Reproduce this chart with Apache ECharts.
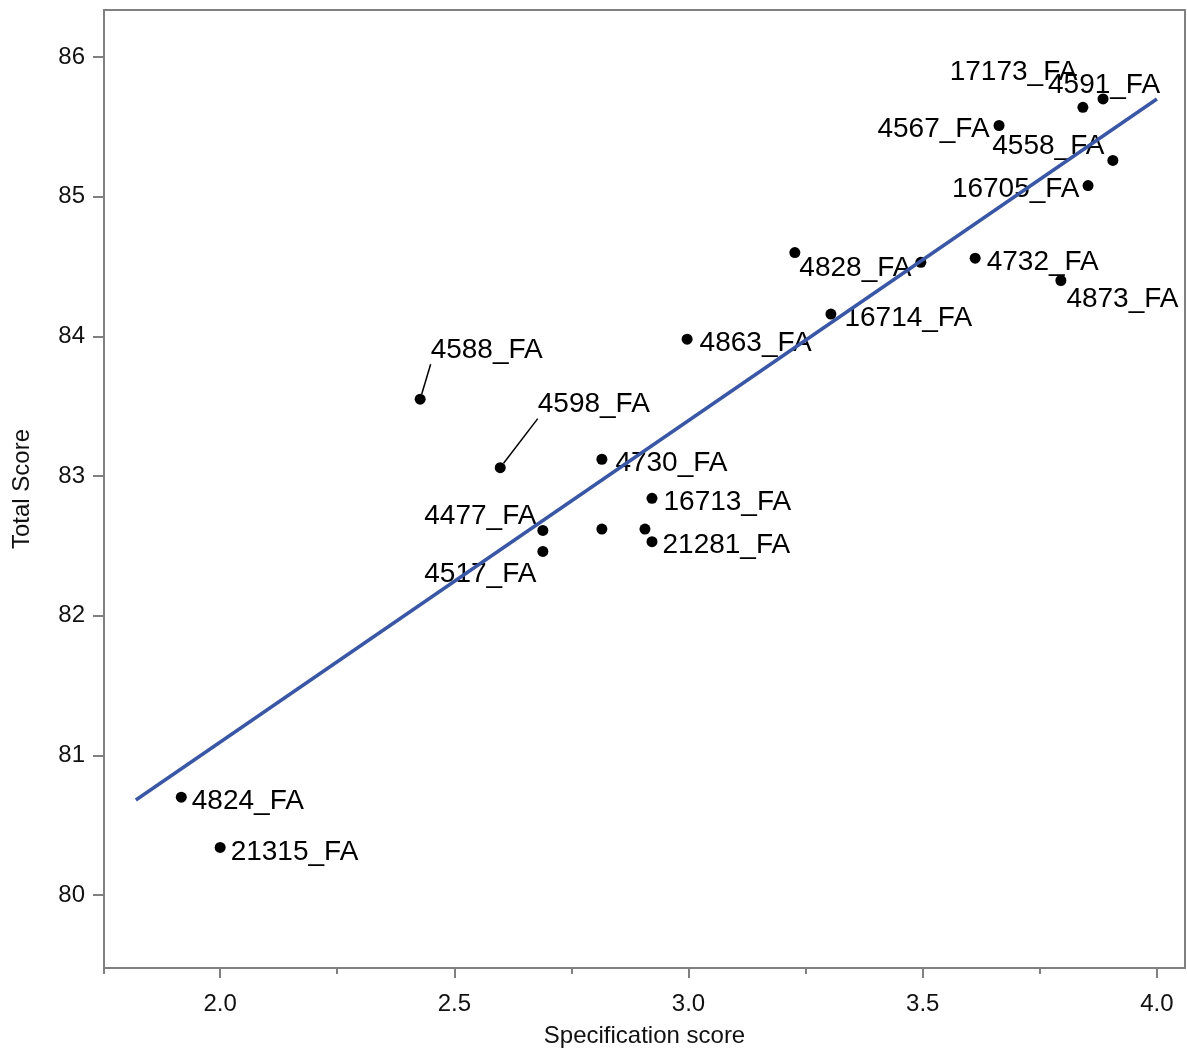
<!DOCTYPE html>
<html lang="en">
<head>
    <meta charset="UTF-8">
    <title>Total Score vs Specification score</title>
    <script src="https://cdn.jsdelivr.net/npm/echarts@6/dist/echarts.min.js"></script>
    <style>
        html, body { margin: 0; padding: 0; background: #fff; }
        #chart { width: 1187px; height: 1050px; }
    </style>
</head>
<body>
    <div id="chart"></div>
    <script>
        // data
        const names = ['4824_FA', '21315_FA', '4588_FA', '4598_FA', '4477_FA', '4517_FA', '', '4730_FA', '',
            '16713_FA', '21281_FA', '4863_FA', '4828_FA', '', '16714_FA', '4732_FA', '4873_FA', '4567_FA',
            '17173_FA', '4591_FA', '4558_FA', '16705_FA'];
        const specScore = [1.917, 2.0, 2.427, 2.598, 2.689, 2.689, 2.815, 2.815, 2.907,
            2.922, 2.922, 2.997, 3.227, 3.496, 3.304, 3.612, 3.795, 3.663,
            3.842, 3.885, 3.906, 3.853];
        const totalScore = [80.70, 80.34, 83.55, 83.06, 82.61, 82.46, 82.62, 83.12, 82.62,
            82.84, 82.53, 83.98, 84.60, 84.53, 84.16, 84.56, 84.40, 85.51,
            85.64, 85.70, 85.26, 85.08];

        // fitted line end points
        const fitX = [1.82, 4.0];
        const fitY = [80.68, 85.70];

        // axis ticks
        const xMajor = [2.0, 2.5, 3.0, 3.5, 4.0];
        const xMinor = [1.752, 2.25, 2.75, 3.25, 3.75];
        const yTicks = [80, 81, 82, 83, 84, 85, 86];

        // where each label sits relative to its dot
        const labelPlace = {
            '4824_FA': ['right', 0, 4],
            '21315_FA': ['right', 0, 5],
            '4588_FA': ['right', 0, -49, true],
            '4598_FA': ['right', 27, -63, true],
            '4477_FA': ['left', 4, -14],
            '4517_FA': ['left', 4, 23],
            '4730_FA': ['right', 3, 4],
            '16713_FA': ['right', 1, 4],
            '21281_FA': ['right', 0, 4],
            '4863_FA': ['right', 2, 4],
            '4828_FA': ['right', -6, 16],
            '16714_FA': ['right', 3, 4],
            '4732_FA': ['right', 1, 4],
            '4873_FA': ['right', -5, 19],
            '4567_FA': ['left', 1, 4],
            '17173_FA': ['left', 5, -35],
            '4591_FA': ['inside', 1, -14],
            '4558_FA': ['left', 2, -14],
            '16705_FA': ['left', 2, 4]
        };

        const font = 'Liberation Sans, Arial, sans-serif';
        const gray = '#808080';

        const points = names.map((n, i) => {
            const item = { name: n, value: [specScore[i], totalScore[i]] };
            const p = labelPlace[n];
            if (p) {
                item.label = { show: true, position: p[0], offset: [p[1], p[2]] };
                if (p[3]) {
                    item.labelLine = { show: true, lineStyle: { color: '#000', width: 1.5 } };
                }
            } else {
                item.label = { show: false };
            }
            return item;
        });

        const chart = echarts.init(document.getElementById('chart'));
        chart.setOption({
            animation: false,
            grid: {
                left: 104, right: 2, top: 10, bottom: 82,
                outerBoundsMode: 'none',
                containLabel: false,
                show: true, borderColor: gray, borderWidth: 2
            },
            xAxis: [
                {
                    type: 'value', position: 'bottom',
                    min: 1.752, max: 4.06,
                    name: 'Specification score', nameLocation: 'middle', nameGap: 56,
                    nameTextStyle: { fontSize: 24, fontFamily: font, color: '#111' },
                    axisLine: { show: true, lineStyle: { color: gray, width: 2 } },
                    axisTick: { show: true, length: 10, customValues: xMajor, lineStyle: { color: gray, width: 2 } },
                    axisLabel: {
                        customValues: xMajor, margin: 24, fontSize: 24, fontFamily: font, color: '#111',
                        formatter: v => v.toFixed(1)
                    },
                    splitLine: { show: false }
                },
                {
                    type: 'value', position: 'bottom',
                    min: 1.752, max: 4.06,
                    axisLine: { show: false },
                    axisTick: { show: true, length: 6, customValues: xMinor, lineStyle: { color: gray, width: 2 } },
                    axisLabel: { show: false },
                    splitLine: { show: false }
                }
            ],
            yAxis: {
                type: 'value',
                min: 79.477, max: 86.337,
                name: 'Total Score', nameLocation: 'middle', nameGap: 70,
                nameTextStyle: { fontSize: 24, fontFamily: font, color: '#111' },
                axisLine: { show: true, lineStyle: { color: gray, width: 2 } },
                axisTick: { show: true, length: 11, customValues: yTicks, lineStyle: { color: gray, width: 2 } },
                axisLabel: { customValues: yTicks, margin: 19, fontSize: 24, fontFamily: font, color: '#111' },
                splitLine: { show: false }
            },
            series: [
                {
                    type: 'line',
                    data: fitX.map((x, i) => [x, fitY[i]]),
                    symbol: 'none',
                    lineStyle: { color: '#3a57a6', width: 3.5 },
                    z: 3
                },
                {
                    type: 'scatter',
                    data: points,
                    symbol: 'circle',
                    symbolSize: 11,
                    itemStyle: { color: '#000', opacity: 1 },
                    label: {
                        show: true, distance: 5,
                        formatter: '{b}',
                        fontSize: 28, fontFamily: font, color: '#000'
                    },
                    z: 2
                }
            ]
        });
    </script>
</body>
</html>
